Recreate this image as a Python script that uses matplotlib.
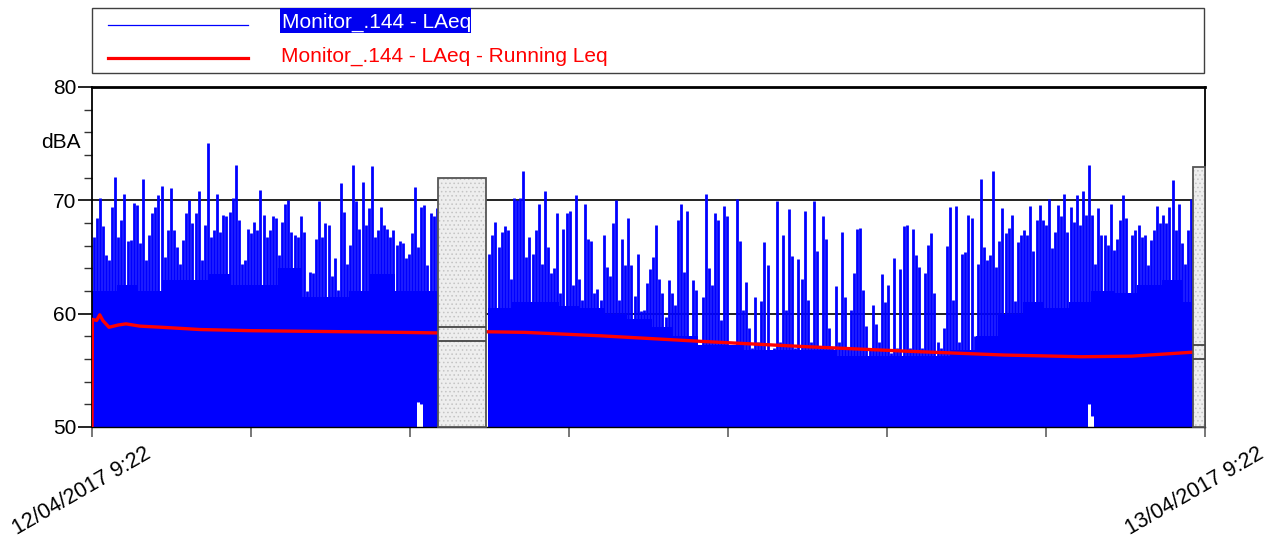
import numpy as np
import matplotlib.pyplot as plt
from matplotlib.patches import Rectangle
from matplotlib.lines import Line2D
from matplotlib.transforms import ScaledTranslation

plt.rcParams['font.family'] = ['Liberation Sans', 'DejaVu Sans']
plt.rcParams['hatch.linewidth'] = 0.6

# =========================
# 1. Data (minutes after 12/04/2017 9:22)
# =========================
bin_min = 4     # one peak value per 4-min bin
base_min = 30   # background level per 30 min

seg1_start = 0
laeq_seg1 = [
    66.8, 68.4, 70.2, 67.7, 65.2, 64.7, 69.4, 72.1, 66.8, 68.3,
    70.6, 66.4, 66.5, 69.8, 69.6, 66.2, 71.9, 64.7, 66.9, 68.9,
    69.4, 70.5, 71.3, 65.0, 67.4, 71.1, 67.4, 65.9, 64.4, 66.5,
    68.9, 70.0, 68.0, 68.9, 70.8, 64.7, 67.8, 75.1, 66.8, 67.4,
    70.6, 67.2, 68.7, 68.6, 69.0, 70.2, 73.1, 68.3, 64.4, 64.7,
    67.5, 67.1, 68.1, 67.4, 70.9, 68.7, 66.8, 67.4,
    68.6, 68.4, 65.2, 68.1, 69.7, 70.0, 67.2, 66.9, 66.8, 68.6,
    67.2, 62.0, 63.7, 63.6, 66.6, 69.9, 66.8, 68.0, 67.8, 63.3,
    64.9, 62.1, 71.5, 69.0, 64.4, 66.1, 73.1, 69.9, 67.5, 71.6,
    67.8, 69.3, 73.0, 66.8, 67.4, 69.4, 67.8, 67.5, 66.8, 67.4,
    66.1, 66.4, 66.2, 64.9, 65.3, 67.1, 71.2, 65.9, 69.4, 69.6,
    64.3, 68.9, 68.6, 69.3,
]
base_seg1 = [62.0, 62.5, 62.0, 63.0, 63.0, 63.5, 62.5, 62.5,
             64.0, 61.5, 61.5, 62.0, 63.5, 62.0, 62.0]

seg2_start = 512
laeq_seg2 = [
    65.3, 66.9, 68.1, 65.9, 67.2, 67.7, 67.4, 63.1, 70.2, 70.0,
    70.2, 72.6, 65.0, 66.8, 65.3, 67.4, 69.7, 64.4, 70.8, 65.9,
    63.6, 64.0, 68.9, 61.8, 67.5, 68.9, 69.1, 62.5, 70.5, 63.1,
    61.2, 69.7, 66.6, 66.4, 61.8, 62.2, 61.2, 66.9, 64.1, 63.3,
    68.0, 70.0, 61.2, 66.6, 64.3, 68.4, 64.3, 61.6, 65.3, 60.2,
    60.3, 62.7, 63.9, 65.0, 67.8, 63.1, 61.8,
    59.7, 63.0, 61.8, 60.8, 68.3, 69.7, 63.7, 69.1, 57.5, 63.0,
    62.1, 57.0, 61.5, 70.6, 64.0, 62.5, 68.9, 68.3, 59.4, 69.5,
    68.6, 57.0, 56.5, 70.1, 66.4, 60.3, 62.8, 58.7, 57.0, 61.5,
    57.5, 61.1, 66.3, 64.3, 56.5, 57.0, 69.9, 57.5, 66.9, 60.3,
    69.2, 65.1, 57.0, 64.8, 63.1, 69.1, 61.2, 57.5, 69.9, 65.5,
    57.0, 68.6, 66.6, 58.7, 57.0, 62.4, 57.5, 67.2,
    61.5, 57.0, 60.3, 63.6, 67.5, 67.6, 62.1, 58.9, 57.0, 60.8,
    59.1, 57.5, 63.5, 61.0, 62.5, 56.5, 64.9, 57.0, 63.9, 67.7,
    67.8, 57.0, 67.5, 65.2, 64.1, 57.0, 63.6, 66.1, 67.1, 61.8,
    57.5, 57.0, 58.7, 66.0, 69.4, 61.2, 69.5, 57.5, 65.3, 65.4,
    68.7, 68.4, 58.0, 64.4, 71.9, 65.9, 64.7, 65.2, 72.6, 64.1,
    66.4, 69.3, 67.1, 67.6, 68.7, 61.1, 66.3,
    66.9, 67.4, 66.9, 69.5, 65.5, 68.3, 69.6, 68.3, 67.8, 70.1,
    65.8, 67.2, 69.6, 68.6, 70.6, 67.2, 69.4, 68.1, 70.5, 67.8,
    70.8, 68.7, 73.1, 68.7, 64.4, 69.3, 66.9, 66.9, 66.1, 69.7,
    65.6, 66.6, 68.3, 70.5, 68.4, 59.4, 66.9, 67.4, 67.8, 66.8,
    66.9, 64.3, 66.5, 67.4, 69.5, 68.0, 68.7, 68.0, 69.4, 71.8,
    67.4, 69.7, 66.2, 64.4, 67.4, 70.1,
]
base_seg2 = [60.5, 61.0, 61.0, 60.7, 60.5, 60.0, 59.5, 58.8, 58.0, 57.2,
             57.2, 56.8, 56.8, 56.8, 56.8, 56.3, 56.3, 56.3, 56.3, 56.3,
             56.8, 58.0, 60.0, 61.0, 60.5, 61.0, 62.0, 61.8, 62.5, 63.0,
             61.0]

# quiet bins where the level never went below the plot floor
quiet_floor = {420: 52.2, 424: 52.0, 1288: 52.0, 1292: 51.0}

# running Leq
leq_t1 = [0, 0.5, 6, 10, 14, 22, 34, 44, 62, 90, 140, 205, 270, 335, 400, 447]
leq_v1 = [50.0, 59.5, 59.4, 59.9, 59.4, 58.8, 59.0, 59.1, 58.9, 58.8,
          58.6, 58.5, 58.45, 58.4, 58.35, 58.3]
leq_t2 = [512, 560, 657, 790, 920, 1050, 1180, 1280, 1345, 1424]
leq_v2 = [58.4, 58.35, 58.05, 57.55, 57.1, 56.7, 56.35, 56.2, 56.25, 56.6]

# gaps in the record (excluded periods)
gap_start = [447.6, 1424.3]
gap_end = [509.7, 1440.0]
gap_top = [72.0, 72.95]
gap_leq_hi = [58.85, 57.25]
gap_leq_lo = [57.6, 56.0]

x_labels = ['12/04/2017 9:22', '13/04/2017 9:22']
series_names = ['Monitor_.144 - LAeq', 'Monitor_.144 - LAeq - Running Leq']

# =========================
# 2. Figure
# =========================
W, H = 1274, 543
fig = plt.figure(figsize=(W / 100, H / 100), dpi=100)


def fx(x):
    return x / W


def fy(y):
    return 1 - y / H


ax = fig.add_axes([fx(92), fy(427), fx(1205) - fx(92), fy(87) - fy(427)])

BLUE = '#0000ff'
for start, vals, base in [(seg1_start, laeq_seg1, base_seg1),
                          (seg2_start, laeq_seg2, base_seg2)]:
    vals = np.asarray(vals, float)
    base = np.asarray(base, float)
    t = start + bin_min * np.arange(len(vals) + 1)
    floor = np.array([quiet_floor.get(tt, 44.0) for tt in t])
    lvl = base[np.minimum((t - start) // base_min, len(base) - 1)]
    # background level
    ax.fill_between(t, floor, lvl, step='post', color=BLUE, lw=0, zorder=2)
    # short-term peaks
    ax.vlines(t[:-1] + bin_min / 2, floor[:-1], vals, color=BLUE, lw=2.0, zorder=2)

# running Leq
ax.plot(leq_t1, leq_v1, color='#ff0000', lw=2.4, zorder=3)
ax.plot(leq_t2, leq_v2, color='#ff0000', lw=2.4, zorder=3)

# excluded periods
for s, e, top, hi, lo in zip(gap_start, gap_end, gap_top, gap_leq_hi, gap_leq_lo):
    ax.add_patch(Rectangle((s, 50), e - s, top - 50, facecolor='#eeeeee',
                           edgecolor='#c4c4c4', hatch='....', lw=0, zorder=4))
    ax.add_patch(Rectangle((s, 50), e - s, top - 50, fill=False,
                           edgecolor='#555555', lw=1.3, zorder=5, clip_on=False))
    ax.hlines([hi, lo], s, e, color='#444444', lw=1.3, zorder=5)

ax.axhline(60, color='#222222', lw=1.4, zorder=1)
ax.axhline(70, color='#222222', lw=1.4, zorder=1)

ax.set_xlim(0, 1440)
ax.set_ylim(50, 80)

for side in ['top', 'left', 'right', 'bottom']:
    ax.spines[side].set_color('black')
ax.spines['top'].set_linewidth(2)
ax.spines['left'].set_linewidth(1.3)
ax.spines['right'].set_linewidth(1.3)
ax.spines['bottom'].set_linewidth(1)

ax.set_yticks([50, 60, 70, 80])
ax.set_yticks(np.arange(52, 80, 2), minor=True)
ax.tick_params(axis='y', which='major', length=10, width=1.2, color='black',
               labelsize=15, pad=1)
ax.tick_params(axis='y', which='minor', length=5.5, width=1.0, color='#333333')

xt = np.linspace(0, 1440, 8)
ax.set_xticks(xt)
ax.set_xticklabels([x_labels[0]] + [''] * 6 + [x_labels[1]])
ax.tick_params(axis='x', length=7.5, width=1.4, color='#777777', labelsize=15.5, pad=4)
for lab in ax.get_xticklabels():
    lab.set_rotation(30)
    lab.set_ha('center')
    lab.set_transform(lab.get_transform() + ScaledTranslation(-0.1, 0, fig.dpi_scale_trans))

fig.text(fx(81), fy(142), 'dBA', ha='right', va='center', fontsize=15)

# =========================
# 3. Legend (drawn by hand)
# =========================
fig.add_artist(Rectangle((fx(92), fy(73)), fx(1204) - fx(92), fy(8) - fy(73),
                         transform=fig.transFigure, fill=False, edgecolor='#404040', lw=1))
fig.add_artist(Line2D([fx(108), fx(248)], [fy(24.5)] * 2, color=BLUE, lw=0.9))
fig.add_artist(Line2D([fx(108), fx(248)], [fy(57.5)] * 2, color='#ff0000', lw=2.3))
fig.add_artist(Rectangle((fx(280), fy(33)), fx(471) - fx(280), fy(8) - fy(33),
                         transform=fig.transFigure, facecolor='#0000f0', lw=0))
fig.text(fx(282), fy(28), series_names[0], color='white', fontsize=15, va='baseline')
fig.text(fx(281), fy(62), series_names[1], color='#ff0000', fontsize=15, va='baseline')

fig.savefig('out.png', dpi=100)
